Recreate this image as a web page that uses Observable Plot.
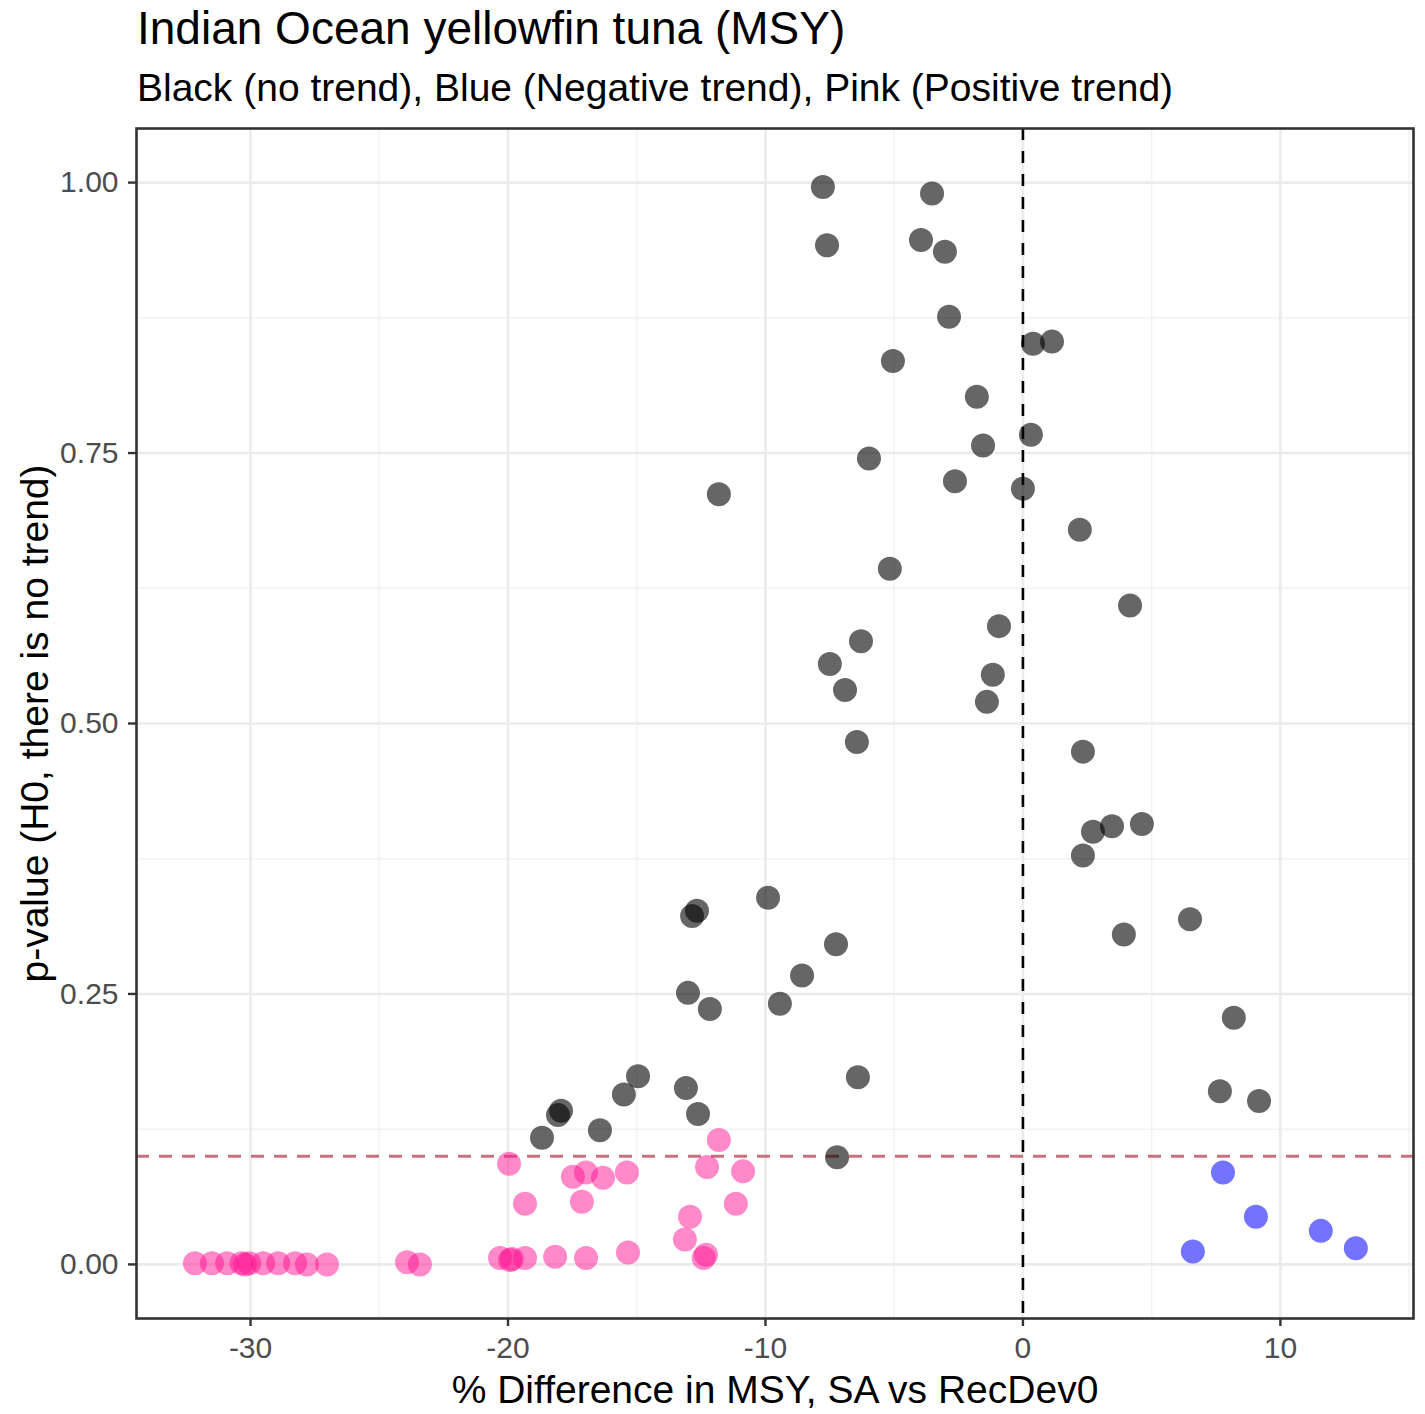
<!DOCTYPE html>
<html>
<head>
<meta charset="utf-8">
<script src="https://cdn.jsdelivr.net/npm/d3@7"></script>
<script src="https://cdn.jsdelivr.net/npm/@observablehq/plot@0.6"></script>
<style>
  html, body { margin: 0; padding: 0; background: #fff; }
  body { font-family: "Liberation Sans", Arial, sans-serif; }
  #wrap { position: relative; width: 1425px; height: 1414px; overflow: hidden; }
  #header { position: relative; width: 1425px; height: 115px; }
  #title { position: absolute; left: 137px; top: 5px; font-size: 46px; line-height: 1; color: #000; white-space: nowrap; }
  #subtitle { position: absolute; left: 137px; top: 68px; font-size: 39px; line-height: 1; color: #000; white-space: nowrap; }
  #chart svg { display: block; }
</style>
</head>
<body>
<div id="wrap">
  <div id="header">
    <div id="title">Indian Ocean yellowfin tuna (MSY)</div>
    <div id="subtitle">Black (no trend), Blue (Negative trend), Pink (Positive trend)</div>
  </div>
  <div id="chart"></div>
</div>
<script>
// ---- Data ----
// Black: no trend
const noTrendX = [-7.77, -3.53, -7.61, -3.96, -3.03, -2.87, 0.39, 1.13, -5.05, -1.79,
  -1.55, 0.31, -5.98, -2.64, 0.00, -11.81, 2.21, -5.17, 4.16, -0.93,
  -6.29, -7.50, -1.17, -6.91, -1.40, -6.45, 2.33, 2.72, 3.46, 4.62,
  2.33, -9.90, -12.66, -12.85, 6.49, -7.26, 3.92, -8.58, -13.01, -9.44,
  -12.16, 8.19, -6.41, -14.95, -15.50, -13.09, 7.65, 9.17, -17.94, -18.06,
  -12.62, -16.43, -18.68, -7.22];
const noTrendY = [0.996, 0.990, 0.942, 0.947, 0.936, 0.876, 0.851, 0.853, 0.835, 0.802,
  0.757, 0.767, 0.745, 0.724, 0.717, 0.712, 0.679, 0.643, 0.609, 0.590,
  0.576, 0.555, 0.545, 0.531, 0.520, 0.483, 0.474, 0.400, 0.405, 0.407,
  0.378, 0.339, 0.327, 0.322, 0.319, 0.296, 0.305, 0.267, 0.251, 0.241,
  0.236, 0.228, 0.173, 0.174, 0.157, 0.163, 0.160, 0.151, 0.142, 0.138,
  0.139, 0.124, 0.117, 0.099];

// Pink: positive trend
const positiveX = [-32.16, -31.50, -30.91, -30.35, -30.21, -30.05, -29.51, -28.93, -28.27, -27.81,
  -27.03, -23.92, -23.42, -20.31, -19.92, -19.85, -19.34, -18.17, -16.97, -15.34,
  -12.31, -12.40, -13.13, -12.93, -19.34, -17.13, -11.15, -17.48, -16.97, -16.31,
  -15.38, -12.27, -10.87, -19.96, -11.81];
const positiveY = [0.001, 0.001, 0.001, 0.001, 0.000, 0.001, 0.001, 0.001, 0.001, 0.000,
  0.000, 0.002, 0.000, 0.006, 0.004, 0.005, 0.006, 0.007, 0.006, 0.011,
  0.009, 0.006, 0.023, 0.044, 0.056, 0.058, 0.056, 0.081, 0.085, 0.080,
  0.085, 0.090, 0.086, 0.093, 0.115];

// Blue: negative trend
const negativeX = [7.77, 9.05, 6.60, 11.57, 12.93];
const negativeY = [0.085, 0.044, 0.012, 0.031, 0.015];

const xTicks = [-30, -20, -10, 0, 10];
const xMinor = [-25, -15, -5, 5, 15];
const yTicks = [0, 0.25, 0.5, 0.75, 1];
const yMinor = [0.125, 0.375, 0.625, 0.875];
const threshold = [0.1];
const zeroLine = [0];

const xLabel = "% Difference in MSY, SA vs RecDev0";
const yLabel = "p-value (H0, there is no trend)";

const toRows = (xs, ys) => xs.map((x, i) => ({x, y: ys[i]}));
const noTrend = toRows(noTrendX, noTrendY);
const positive = toRows(positiveX, positiveY);
const negative = toRows(negativeX, negativeY);

const chart = Plot.plot({
  width: 1425,
  height: 1299,
  marginTop: 13,
  marginBottom: 96,
  marginLeft: 136,
  marginRight: 12,
  style: { fontFamily: "'Liberation Sans', Arial, sans-serif", background: "white", color: "black" },
  x: { domain: [-34.43, 15.17] },
  y: { domain: [-0.05, 1.05] },
  marks: [
    Plot.ruleX(xMinor, { stroke: "#f2f2f2", strokeWidth: 1.4 }),
    Plot.ruleY(yMinor, { stroke: "#f2f2f2", strokeWidth: 1.4 }),
    Plot.ruleX(xTicks, { stroke: "#ebebeb", strokeWidth: 2.6 }),
    Plot.ruleY(yTicks, { stroke: "#ebebeb", strokeWidth: 2.6 }),
    Plot.ruleY(threshold, { stroke: "#c9727f", strokeWidth: 3, strokeDasharray: "13,10" }),
    Plot.ruleX(zeroLine, { stroke: "black", strokeWidth: 2.6, strokeDasharray: "12,11" }),
    Plot.dot(noTrend, { x: "x", y: "y", r: 12, fill: "black", fillOpacity: 0.6, stroke: "none" }),
    Plot.dot(positive, { x: "x", y: "y", r: 12, fill: "deeppink", fillOpacity: 0.5, stroke: "none" }),
    Plot.dot(negative, { x: "x", y: "y", r: 12, fill: "blue", fillOpacity: 0.55, stroke: "none" }),
    Plot.frame({ stroke: "#333333", strokeWidth: 2.6 }),
    Plot.axisX({ ticks: xTicks, tickSize: 8, tickPadding: 10, fontSize: 30, fill: "#4d4d4d", stroke: "#333333", strokeWidth: 2.4, tickFormat: d => String(d), label: null }),
    Plot.axisY({ ticks: yTicks, tickSize: 8, tickPadding: 10, fontSize: 30, fill: "#4d4d4d", stroke: "#333333", strokeWidth: 2.4, tickFormat: d3.format(".2f"), label: null }),
    Plot.text([xLabel], { text: d => d, frameAnchor: "bottom", dy: 72, fontSize: 39, fill: "black", textAnchor: "middle", lineAnchor: "middle" }),
    Plot.text([yLabel], { text: d => d, frameAnchor: "left", dx: -101, rotate: -90, fontSize: 39, fill: "black", textAnchor: "middle", lineAnchor: "middle" })
  ]
});
document.getElementById("chart").appendChild(chart);
</script>
</body>
</html>
